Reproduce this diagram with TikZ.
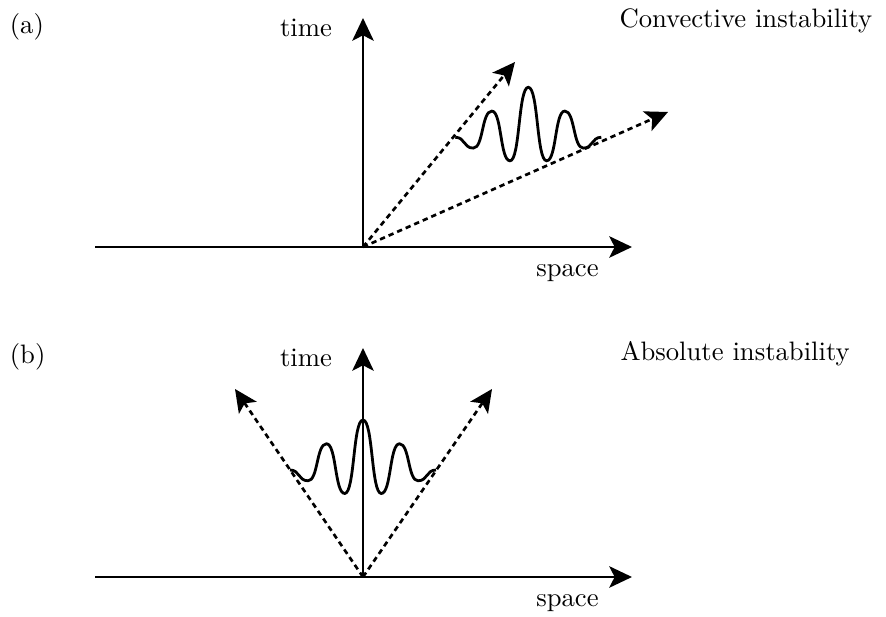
\documentclass[tikz,border=0pt]{standalone}
\usepackage{tikz}
\usetikzlibrary{arrows.meta}

\newcommand{\packet}[1]{%
    \draw[wave] (#1) ++(-7.3,-5.0)
        \foreach \dx/\dy in {1.8/-1.08,1.85/3.7,1.82/-4.97,1.83/7.35,1.83/-7.35,1.82/4.97,1.85/-3.7,1.8/1.08}
        { .. controls +(0.55*\dx,0) and +(-0.55*\dx,0) .. ++(\dx,\dy) };%
}

\begin{document}
\begin{tikzpicture}[x=3.75pt,y=3.75pt,
    axis/.style={line width=1.1pt,-{Stealth[length=8.5pt,width=8pt,inset=2pt]}},
    ray/.style={line width=1pt,dash pattern=on 2pt off 1.5pt,-{Stealth[length=8.5pt,width=8pt,inset=2pt]}},
    wave/.style={line width=1.05pt},
    lbl/.style={inner sep=0pt}]
    \useasboundingbox (0,0) rectangle (88.6,61.7);

    % (a) convective
    \coordinate (Oa) at (36.3,37.0);
    \coordinate (La) at (9.5,37.0);
    \coordinate (Ra) at (63.2,37.0);
    \coordinate (Ta) at (36.3,59.9);
    \coordinate (Pa) at (51.5,55.5);
    \coordinate (Qa) at (66.8,50.5);
    \coordinate (Wa) at (52.83,52.97);
    \draw[axis] (La)--(Ra);
    \draw[axis] (Oa)--(Ta);
    \draw[ray] (Oa)--(Pa);
    \draw[ray] (Oa)--(Qa);
    \packet{Wa}
    \node[lbl,anchor=base] (timeA) at (30.6,58.0) {time};
    \node[lbl,anchor=base] (spaceA) at (56.75,34.03) {space};
    \node[lbl,anchor=base west] (tagA) at (0.93,58.35) {(a)};
    \node[lbl,anchor=base west] (titleA) at (61.9,58.93) {Convective instability};

    % (b) absolute
    \coordinate (Ob) at (36.3,4.0);
    \coordinate (Lb) at (9.5,4.0);
    \coordinate (Rb) at (63.2,4.0);
    \coordinate (Tb) at (36.3,26.9);
    \coordinate (Pb) at (23.5,22.8);
    \coordinate (Qb) at (49.2,22.8);
    \coordinate (Wb) at (36.3,19.7);
    \draw[axis] (Lb)--(Rb);
    \draw[axis] (Ob)--(Tb);
    \draw[ray] (Ob)--(Pb);
    \draw[ray] (Ob)--(Qb);
    \packet{Wb}
    \node[lbl,anchor=base] (timeB) at (30.6,25.03) {time};
    \node[lbl,anchor=base] (spaceB) at (56.75,1.03) {space};
    \node[lbl,anchor=base west] (tagB) at (0.93,25.35) {(b)};
    \node[lbl,anchor=base west] (titleB) at (62.0,25.63) {Absolute instability};

\end{tikzpicture}
\end{document}
